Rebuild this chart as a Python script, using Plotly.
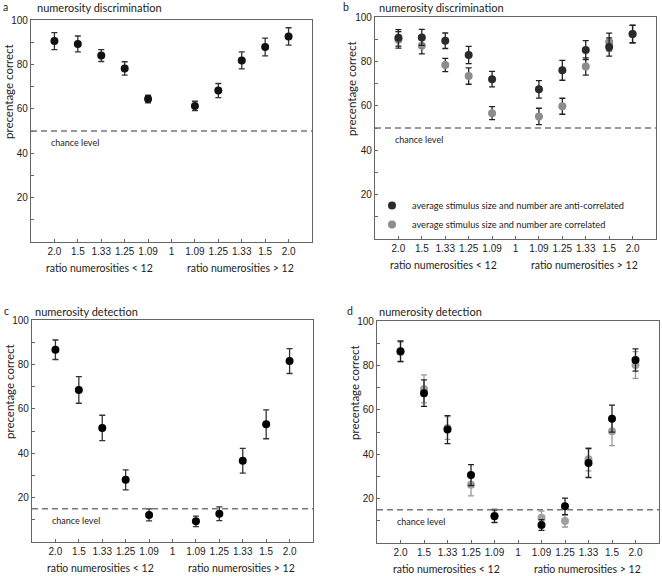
import plotly.graph_objects as go

W, H = 662, 576

ratio_labels = ["2.0", "1.5", "1.33", "1.25", "1.09", "1", "1.09", "1.25", "1.33", "1.5", "2.0"]
positions = list(range(len(ratio_labels)))

# a: numerosity discrimination
disc_all = [90.5, 89.2, 84.0, 78.2, 64.4, None, 61.3, 68.2, 81.8, 87.8, 92.6]
disc_all_err = [3.8, 3.6, 2.7, 3.0, 1.7, None, 2.1, 3.2, 3.8, 4.0, 3.9]

# b: discrimination split by stimulus size / number relation
disc_anti = [90.6, 90.8, 89.3, 82.9, 72.0, None, 67.4, 76.0, 85.1, 86.5, 92.3]
disc_anti_err = [3.7, 3.6, 3.5, 3.9, 3.5, None, 3.9, 4.5, 4.3, 4.1, 3.9]
disc_corr = [89.7, 87.1, 78.4, 73.4, 56.7, None, 55.2, 59.8, 77.7, 88.7, 92.3]
disc_corr_err = [3.7, 3.7, 3.0, 3.7, 2.9, None, 3.7, 3.6, 3.9, 4.0, 4.0]

# c: numerosity detection
det_all = [86.6, 68.5, 51.4, 28.0, 12.2, None, 9.3, 12.7, 36.6, 53.0, 81.5]
det_all_err = [4.4, 6.0, 5.7, 4.5, 2.7, None, 2.4, 3.1, 5.6, 6.5, 5.6]

# d: detection split
det_anti = [86.4, 67.5, 51.1, 30.6, 12.0, None, 8.1, 16.5, 36.0, 56.0, 82.4]
det_anti_err = [4.6, 6.0, 6.3, 4.7, 2.8, None, 2.4, 3.7, 6.5, 6.1, 5.0]
det_corr = [86.0, 69.4, 51.8, 26.2, 12.4, None, 11.4, 9.9, 37.7, 50.3, 80.2]
det_corr_err = [4.5, 6.3, 5.1, 5.0, 3.0, None, 3.0, 2.7, 5.2, 6.4, 6.0]

chance = [50, 50, 15, 15]
panel_titles = ["numerosity discrimination", "numerosity discrimination",
                "numerosity detection", "numerosity detection"]
panel_letters = ["a", "b", "c", "d"]
legend_names = ["average stimulus size and number are anti-correlated",
                "average stimulus size and number are correlated"]

TXT = "Lato, 'Open Sans', sans-serif"
NUM = "'Liberation Sans', Arial, sans-serif"


def px(x):
    return x / W


def py(y):
    return 1 - y / H


# plot boxes in pixels: left, right, top, bottom
boxes = [(31, 312, 20, 242), (375, 656, 17, 239), (32, 313, 320, 542), (377, 659, 321, 543)]
letter_pos = [(5.5, 7), (346, 7), (6, 311), (350.5, 311)]
title_pos = [(35, 8), (377, 7), (33, 311), (377, 311)]


def add_series(fig, k, y, err, color, ecolor, name=None, legend=False):
    fig.add_trace(go.Scatter(
        x=positions, y=y, mode="markers", name=name, showlegend=legend,
        marker=dict(size=8, color=color),
        error_y=dict(type="data", array=err, color=ecolor, thickness=1.3, width=3),
        xaxis="x" if k == 0 else f"x{k+1}", yaxis="y" if k == 0 else f"y{k+1}",
    ))


def note(x, y, text, size, **kw):
    d = dict(xref="paper", yref="paper", x=px(x), y=py(y), text=text, showarrow=False,
             xanchor="center", yanchor="middle",
             font=dict(size=size, family=TXT, color="#222"))
    d.update(kw)
    return d


fig = go.Figure()
add_series(fig, 0, disc_all, disc_all_err, "#111", "#333")
add_series(fig, 1, disc_corr, disc_corr_err, "#8c8c8c", "#222", legend_names[1], True)
add_series(fig, 1, disc_anti, disc_anti_err, "#2a2a2a", "#222", legend_names[0], True)
add_series(fig, 2, det_all, det_all_err, "#000", "#333")
add_series(fig, 3, det_corr, det_corr_err, "#a0a0a0", "#999")
add_series(fig, 3, det_anti, det_anti_err, "#000", "#222")

layout = dict(
    width=W, height=H, margin=dict(l=0, r=0, t=0, b=0, autoexpand=False),
    paper_bgcolor="white", plot_bgcolor="white",
    font=dict(family=TXT, color="#222"),
    legend=dict(x=px(372), y=py(191), xanchor="left", yanchor="top",
                traceorder="reversed", font=dict(size=9.2, family=TXT, color="#222"),
                bgcolor="rgba(0,0,0,0)", itemwidth=30),
)
annotations = []
shapes = []
for k, (l, r, t, b) in enumerate(boxes):
    sx = "" if k == 0 else str(k + 1)
    layout["xaxis" + sx] = dict(
        domain=[px(l), px(r)], anchor="y" + sx, range=[-1, 11], automargin=False,
        tickmode="array", tickvals=positions, ticktext=ratio_labels,
        ticks="inside", ticklen=3, tickcolor="#666",
        showline=True, mirror=True, linecolor="#666", linewidth=1.2,
        showgrid=False, zeroline=False,
        tickfont=dict(size=10, family=NUM, color="#222"),
    )
    layout["yaxis" + sx] = dict(
        domain=[py(b), py(t)], anchor="x" + sx, range=[0, 100], automargin=False,
        tickmode="array", tickvals=[20, 40, 60, 80, 100],
        ticks="inside", ticklen=3, tickcolor="#666",
        minor=dict(tickvals=[10, 30, 50, 70, 90], ticks="inside", ticklen=3, tickcolor="#666"),
        showline=True, mirror=True, linecolor="#666", linewidth=1.2,
        showgrid=False, zeroline=False,
        tickfont=dict(size=10, family=NUM, color="#222"),
    )
    shapes.append(dict(type="line", xref="paper", yref="y" + sx,
                       x0=px(l), x1=px(r), y0=chance[k], y1=chance[k],
                       line=dict(color="#777", width=1.5, dash="6px,4px")))
    annotations.append(dict(xref="x" + sx, yref="y" + sx, x=-0.25,
                            y=chance[k] - (5 if k < 2 else 5.5),
                            text="chance level", showarrow=False,
                            xanchor="left", yanchor="middle",
                            font=dict(size=9, family=TXT, color="#222")))
    w = r - l
    annotations += [
        note(*letter_pos[k], panel_letters[k], 10.5),
        note(*title_pos[k], panel_titles[k], 11, xanchor="left"),
        note(l + 0.245 * w, b + 26, "ratio numerosities &lt; 12", 10.5),
        note(l + 0.747 * w, b + 26, "ratio numerosities &gt; 12", 10.5),
        note(l - 23, t + 72, "precentage correct", 11.5, textangle=-90),
    ]

layout["annotations"] = annotations
layout["shapes"] = shapes
fig.update_layout(**layout)
# page body has an 8px default margin; drop it so the figure sits at the window origin
fig.write_html("out.html", config={"displayModeBar": False},
               post_script="document.body.style.margin='0';")
